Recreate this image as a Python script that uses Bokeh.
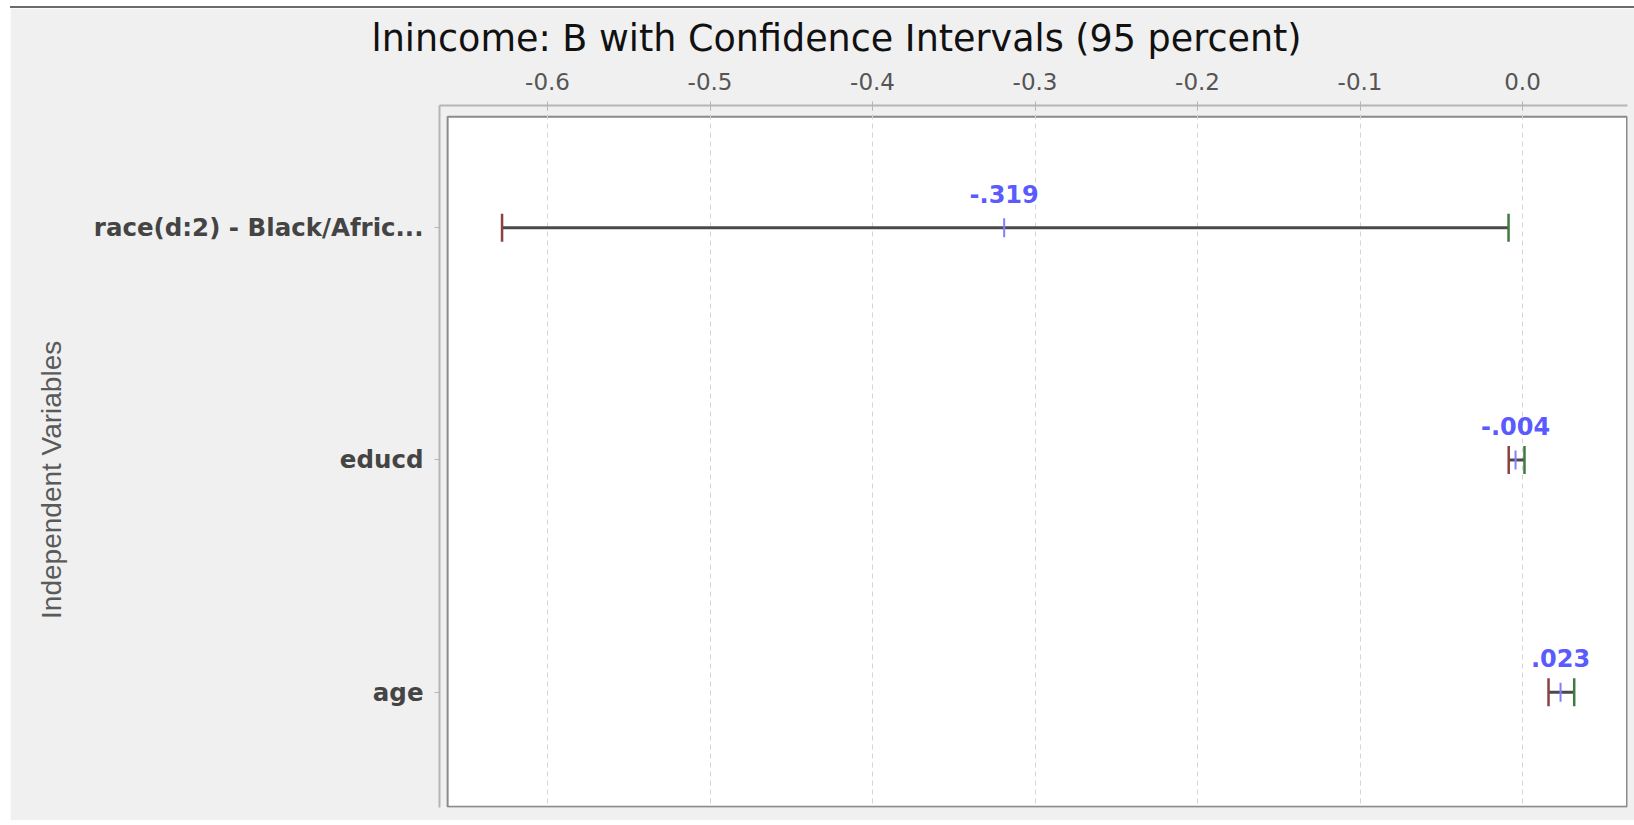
from bokeh.plotting import figure
from bokeh.models import Range1d, FixedTicker, ColumnDataSource
from bokeh.core.properties import value
from bokeh.embed import file_html
from bokeh.resources import INLINE

# ---- data ----
VARIABLES = ["race(d:2) - Black/Afric...", "educd", "age"]
B = [-0.319, -0.0043, 0.0234]
CI_LOWER = [-0.628, -0.0085, 0.0160]
CI_UPPER = [-0.0086, 0.0012, 0.0318]
X_TICKS = [-0.6, -0.5, -0.4, -0.3, -0.2, -0.1, 0.0]
X_TICK_LABELS = ["-0.6", "-0.5", "-0.4", "-0.3", "-0.2", "-0.1", "0.0"]
TITLE = "lnincome: B with Confidence Intervals (95 percent)"
Y_LABEL = "Independent Variables"

# ---- ranges (frame incl. axis offset gap) ----
X_START, X_END = -0.6665, 0.0646
Y_BOTTOM, Y_TOP = 2.497, -0.527
BOX_LEFT, BOX_TOP = -0.6615, -0.479


def fmt(v):
    s = f"{v:.3f}"
    return s.replace("0.", ".", 1)


rows = list(range(len(VARIABLES)))
src = ColumnDataSource(dict(
    row=rows, b=B, lo=CI_LOWER, hi=CI_UPPER, lab=[fmt(v) for v in B]))

p = figure(width=1624, height=814,
           x_range=Range1d(X_START, X_END), y_range=Range1d(Y_BOTTOM, Y_TOP),
           x_axis_location="above", output_backend="svg", toolbar_location=None,
           min_border_left=429, min_border_right=7, min_border_top=97,
           min_border_bottom=15,
           background_fill_color="#f0f0f0", border_fill_color="#f0f0f0",
           outline_line_color=None)
p.styles = {"border-top": "2px solid #6a6a6a", "margin-left": "10px",
            "margin-top": "6px"}

# title
p.title.text = TITLE
p.title.text_font = "DejaVu Sans"
p.title.text_font_size = "36.5px"
p.title.text_font_style = "normal"
p.title.text_color = "#111111"
p.title.align = "left"
p.title.offset = -68
p.title.vertical_align = "top"
p.title.standoff = 16

# white plotting box
p.quad(left=[BOX_LEFT], right=[X_END - 0.0003], top=[BOX_TOP], bottom=[Y_BOTTOM - 0.003],
       fill_color="white", line_color="#8a8a8a", line_width=2, level="image")

# x axis (top)
xa = p.xaxis[0]
xa.ticker = FixedTicker(ticks=X_TICKS)
xa.major_label_overrides = {t: l for t, l in zip(X_TICKS, X_TICK_LABELS)}
xa.major_label_text_font = "DejaVu Sans"
xa.major_label_text_font_size = "23px"
xa.major_label_text_color = "#555555"
xa.major_label_standoff = 12
xa.major_tick_out = 4
xa.major_tick_in = 5
xa.major_tick_line_color = "#b5b5b5"
xa.minor_tick_line_color = None
xa.axis_line_color = "#b5b5b5"
xa.axis_line_width = 2

# y axis (left)
ya = p.yaxis[0]
ya.ticker = FixedTicker(ticks=rows)
ya.major_label_overrides = {r: v for r, v in zip(rows, VARIABLES)}
ya.major_label_text_font = "DejaVu Sans"
ya.major_label_text_font_style = "bold"
ya.major_label_text_font_size = "24.5px"
ya.major_label_text_color = "#444444"
ya.major_label_standoff = 11
ya.major_tick_out = 5
ya.major_tick_in = 0
ya.major_tick_line_color = "#b5b5b5"
ya.minor_tick_line_color = None
ya.axis_line_color = "#b5b5b5"
ya.axis_line_width = 2
# trailing no-break spaces push the rotated label a little lower, as in the source
ya.axis_label = Y_LABEL + "\u00a0" * 6
ya.axis_label_text_font = "Liberation Sans"
ya.axis_label_text_font_style = "normal"
ya.axis_label_text_font_size = "28px"
ya.axis_label_text_color = "#5a5a5a"
ya.axis_label_standoff = 24

# grids
p.xgrid.grid_line_color = "#d4d4d4"
p.xgrid.grid_line_dash = "5 4"
p.xgrid.grid_line_width = 1
p.ygrid.grid_line_color = None

# CI lines
p.segment(x0="lo", y0="row", x1="hi", y1="row", source=src,
          line_color="#4a4a4a", line_width=3)
# caps
p.scatter(x="lo", y="row", source=src, marker="dash", angle=1.5708, size=28,
          line_color="#8c4040", line_width=2.5)
p.scatter(x="hi", y="row", source=src, marker="dash", angle=1.5708, size=28,
          line_color="#3f7a3f", line_width=2.5)
# estimate tick
p.scatter(x="b", y="row", source=src, marker="dash", angle=1.5708, size=19,
          line_color="#8080ff", line_width=2)
# estimate labels
p.text(x="b", y="row", text="lab", source=src, y_offset=-34,
       text_align="center", text_baseline="alphabetic",
       text_font=value("DejaVu Sans"), text_font_style="bold",
       text_font_size="24px", text_color="#5a5aff")

open("out.html", "w").write(file_html(p, INLINE))
